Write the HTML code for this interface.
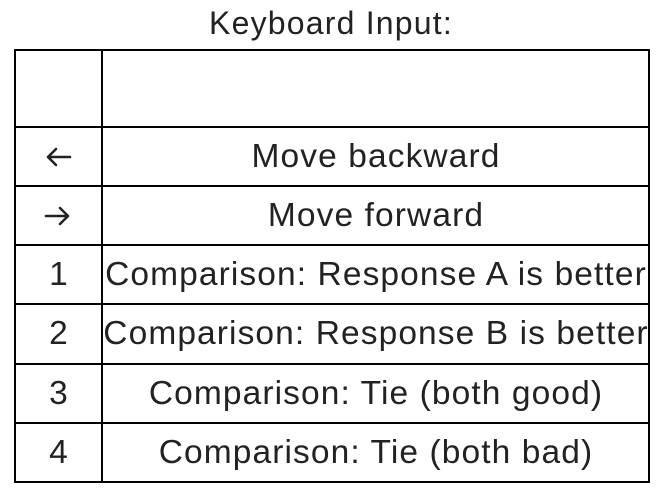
<!DOCTYPE html>
<html><head><meta charset="utf-8"><style>
html,body{margin:0;padding:0;background:#fff;width:662px;height:496px;overflow:hidden;}
body{font-family:"Liberation Sans",sans-serif;color:#222;position:relative;}
.t{position:absolute;left:0;width:662px;top:4px;text-align:center;font-size:32px;letter-spacing:1.2px;line-height:38px;}
.h{position:absolute;left:14px;width:636px;height:2px;background:#000;}
.v{position:absolute;top:49px;height:434px;width:2px;background:#000;}
.c{position:absolute;font-size:33.5px;letter-spacing:1.1px;text-align:center;line-height:59px;height:59px;white-space:nowrap;}
.k{left:16px;width:86px;}
.d{left:103px;width:546px;}
svg{position:absolute;}
</style></head><body>
<div class="t">Keyboard Input:</div>
<div class="h" style="top:49px"></div>
<div class="h" style="top:126px"></div>
<div class="h" style="top:185px"></div>
<div class="h" style="top:244px"></div>
<div class="h" style="top:303px"></div>
<div class="h" style="top:363px"></div>
<div class="h" style="top:422px"></div>
<div class="h" style="top:481px"></div>
<div class="v" style="left:14px"></div>
<div class="v" style="left:101px"></div>
<div class="v" style="left:648px"></div>
<svg style="left:44px;top:147px" width="28" height="20"><path d="M26 10H4M12 2L4 10L12 18" fill="none" stroke="#222" stroke-width="2.6" stroke-linecap="round" stroke-linejoin="round"/></svg>
<svg style="left:44px;top:206px" width="28" height="20"><path d="M2 10H24M16 2L24 10L16 18" fill="none" stroke="#222" stroke-width="2.6" stroke-linecap="round" stroke-linejoin="round"/></svg>
<div class="c d" style="top:127px">Move backward</div>
<div class="c d" style="top:186px">Move forward</div>
<div class="c k" style="top:245px">1</div><div class="c d" style="top:245px">Comparison: Response A is better</div>
<div class="c k" style="top:304px">2</div><div class="c d" style="top:304px">Comparison: Response B is better</div>
<div class="c k" style="top:364px">3</div><div class="c d" style="top:364px">Comparison: Tie (both good)</div>
<div class="c k" style="top:423px">4</div><div class="c d" style="top:423px">Comparison: Tie (both bad)</div>
</body></html>
